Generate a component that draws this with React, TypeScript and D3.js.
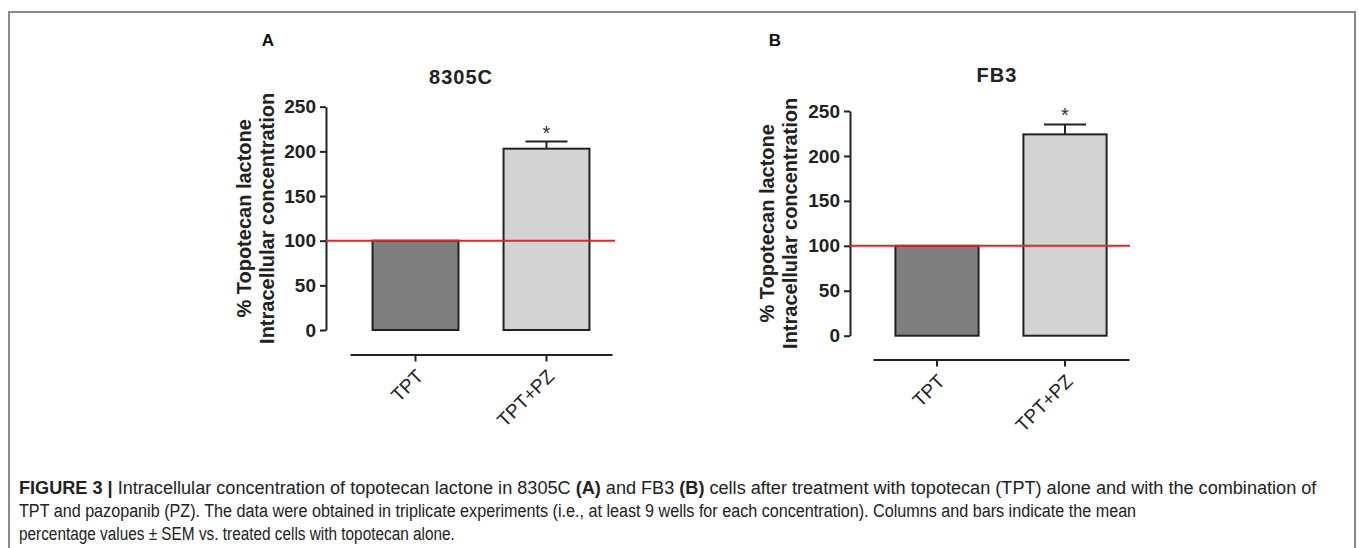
import React, { useRef, useEffect } from 'react';
import * as d3 from 'd3';

// data
const categories = ['TPT', 'TPT+PZ'];
const panelNames = ['8305C', 'FB3'];
const panelLetters = ['A', 'B'];
const mean8305C = [100, 203];
const sem8305C = [0, 8];
const meanFB3 = [100, 224];
const semFB3 = [0, 11];
const yTicks = [0, 50, 100, 150, 200, 250];
const referenceLevel = 100;
const significance = ['', '*'];

const captionLines = [
  [
    { t: 'FIGURE 3 | ', b: true },
    { t: 'Intracellular concentration of topotecan lactone in 8305C ', b: false },
    { t: '(A)', b: true },
    { t: ' and FB3 ', b: false },
    { t: '(B)', b: true },
    { t: ' cells after treatment with topotecan (TPT) alone and with the combination of', b: false },
  ],
  [{ t: 'TPT and pazopanib (PZ). The data were obtained in triplicate experiments (i.e., at least 9 wells for each concentration). Columns and bars indicate the mean', b: false }],
  [{ t: 'percentage values \u00b1 SEM vs. treated cells with topotecan alone.', b: false }],
];

// layout of the two panels (pixels)
const layouts = [
  { yAxisX: 326, yTop: 106.7, yBottom: 330, xLeft: 350, xRight: 612, xAxisY: 354.5, pad: 0.344,
    titleX: 461, titleY: 84, letterX: 268, title1X: 251, title2X: 274, refEnd: 615 },
  { yAxisX: 850, yTop: 111, yBottom: 335.7, xLeft: 873, xRight: 1129, xAxisY: 359.5, pad: 0.35,
    titleX: 997, titleY: 82, letterX: 775, title1X: 774, title2X: 797, refEnd: 1130 },
];

const FONT = '"Liberation Sans", Arial, sans-serif';

const App = () => {
  const svgRef = useRef<SVGSVGElement>(null);

  useEffect(() => {
    const svg = d3.select(svgRef.current);
    svg.selectAll('*').remove();

    svg.append('rect')
      .attr('x', 9).attr('y', 12)
      .attr('width', 1346).attr('height', 600)
      .attr('fill', 'none')
      .attr('stroke', '#8a8a8a')
      .attr('stroke-width', 2);

    const series = [
      { mean: mean8305C, sem: sem8305C },
      { mean: meanFB3, sem: semFB3 },
    ];

    series.forEach((s, i) => {
      const L = layouts[i];
      const g = svg.append('g').attr('font-family', FONT);

      const y = d3.scaleLinear().domain([0, 250]).range([L.yBottom, L.yTop]);
      const x = d3.scaleBand<string>()
        .domain(categories)
        .range([L.xLeft, L.xRight])
        .paddingInner(L.pad)
        .paddingOuter(L.pad / 2);

      // y axis
      const ya = g.append('g')
        .attr('transform', `translate(${L.yAxisX},0)`)
        .call(d3.axisLeft(y).tickValues(yTicks).tickSize(6).tickSizeOuter(0).tickPadding(4));
      ya.select('.domain').attr('stroke', '#222').attr('stroke-width', 2);
      ya.selectAll('.tick line').attr('stroke', '#222').attr('stroke-width', 2);
      ya.selectAll('.tick text')
        .attr('font-family', FONT)
        .attr('font-size', 19)
        .attr('font-weight', 'bold')
        .attr('fill', '#222');

      // bars
      g.selectAll('.bar')
        .data(categories)
        .enter().append('rect')
        .attr('x', d => x(d)!)
        .attr('y', (d, j) => y(s.mean[j]))
        .attr('width', x.bandwidth())
        .attr('height', (d, j) => y(0) - y(s.mean[j]))
        .attr('fill', (d, j) => (j === 0 ? '#7f7f7f' : '#d3d3d3'))
        .attr('stroke', '#222')
        .attr('stroke-width', 2);

      // error bars (upper half only)
      const withErr = categories.map((c, j) => ({ c, m: s.mean[j], e: s.sem[j], sig: significance[j] }))
        .filter(d => d.e > 0);
      withErr.forEach(d => {
        const cx = x(d.c)! + x.bandwidth() / 2;
        g.append('line')
          .attr('x1', cx).attr('x2', cx)
          .attr('y1', y(d.m)).attr('y2', y(d.m + d.e))
          .attr('stroke', '#222').attr('stroke-width', 2);
        g.append('line')
          .attr('x1', cx - 21).attr('x2', cx + 21)
          .attr('y1', y(d.m + d.e)).attr('y2', y(d.m + d.e))
          .attr('stroke', '#222').attr('stroke-width', 2);
        g.append('text')
          .attr('x', cx).attr('y', y(d.m + d.e) - 2)
          .attr('text-anchor', 'middle')
          .attr('font-size', 20)
          .attr('fill', '#333')
          .text(d.sig);
      });

      // reference line at 100 %
      g.append('line')
        .attr('x1', L.yAxisX).attr('x2', L.refEnd)
        .attr('y1', y(referenceLevel)).attr('y2', y(referenceLevel))
        .attr('stroke', '#e8222a').attr('stroke-width', 2);

      // x axis
      const xa = g.append('g')
        .attr('transform', `translate(0,${L.xAxisY})`)
        .call(d3.axisBottom(x).tickSize(7).tickSizeOuter(0));
      xa.select('.domain').attr('stroke', '#222').attr('stroke-width', 2);
      xa.selectAll('.tick line').attr('stroke', '#222').attr('stroke-width', 2);
      xa.selectAll('.tick text')
        .attr('font-family', FONT)
        .attr('font-size', 19)
        .attr('fill', '#222')
        .attr('text-anchor', 'end')
        .attr('x', 0).attr('y', 0).attr('dy', 0)
        .attr('transform', 'translate(9,23) rotate(-45)');

      // y axis title
      const cy = (L.yTop + L.yBottom) / 2;
      [['% Topotecan lactone', L.title1X], ['Intracellular concentration', L.title2X]].forEach(([t, tx]) => {
        g.append('text')
          .attr('transform', `translate(${tx},${cy}) rotate(-90)`)
          .attr('text-anchor', 'middle')
          .attr('font-size', 20)
          .attr('font-weight', 'bold')
          .attr('fill', '#222')
          .text(t as string);
      });

      // panel title & letter
      g.append('text')
        .attr('x', L.titleX).attr('y', L.titleY)
        .attr('text-anchor', 'middle')
        .attr('font-size', 20)
        .attr('font-weight', 'bold')
        .attr('letter-spacing', 1)
        .attr('fill', '#222')
        .text(panelNames[i]);
      g.append('text')
        .attr('x', L.letterX).attr('y', 46)
        .attr('text-anchor', 'middle')
        .attr('font-size', 17)
        .attr('font-weight', 'bold')
        .attr('fill', '#111')
        .text(panelLetters[i]);
    });

    // caption: condensed look by squeezing each line horizontally
    const widths = [1299, 1118, 436];
    captionLines.forEach((parts, k) => {
      const t = svg.append('text')
        .attr('x', 0).attr('y', 0)
        .attr('font-family', FONT)
        .attr('font-size', 19)
        .attr('fill', '#222');
      parts.forEach(p => {
        t.append('tspan').attr('font-weight', p.b ? 'bold' : 'normal').text(p.t);
      });
      const len = (t.node() as SVGTextElement).getComputedTextLength() || widths[k];
      t.attr('transform', `translate(19,${494 + k * 23}) scale(${widths[k] / len},1)`);
    });
  }, []);

  return (
    <svg ref={svgRef} width={1359} height={548}
      style={{ position: 'absolute', left: 0, top: 0, background: '#fff' }} />
  );
};

export default App;
